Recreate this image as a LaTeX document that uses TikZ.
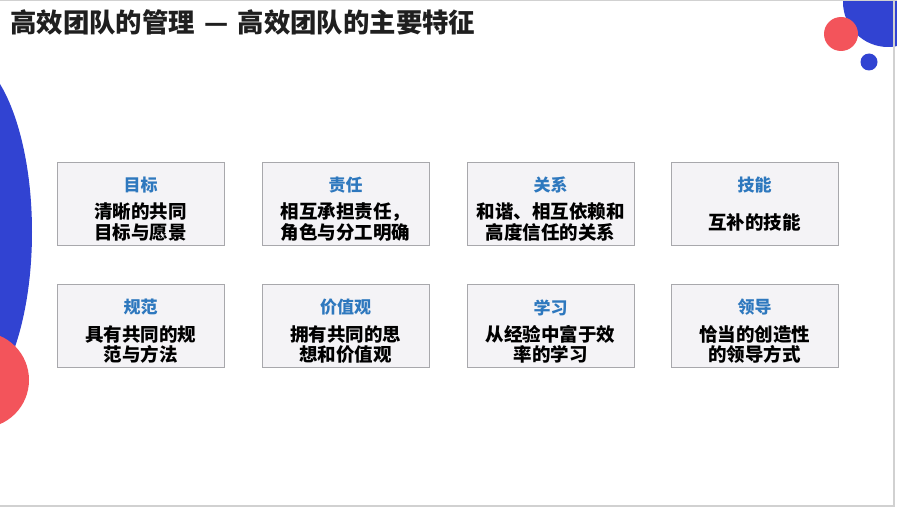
\documentclass[tikz,border=0pt]{standalone}
\usepackage{fontspec}
\setmainfont{Noto Sans CJK SC}
\usepackage{tikz}

\definecolor{deepblue}{HTML}{3143D2}
\definecolor{coral}{HTML}{F3545B}
\definecolor{headblue}{HTML}{2E78BE}
\definecolor{boxfill}{HTML}{F4F3F6}
\definecolor{boxline}{HTML}{A8A8AC}

\tikzset{
    card/.style={draw=boxline, fill=boxfill, line width=0.9pt,
        minimum width=167pt, minimum height=83pt, inner sep=0pt},
    cardhead/.style={text=headblue, font=\fontsize{17}{19}\selectfont\bfseries},
    cardbody/.style={align=center, font=\fontsize{18.5}{20.5}\selectfont\bfseries}
}

\begin{document}
\begin{tikzpicture}[x=1pt, y=-1pt]
    \useasboundingbox (0,0) rectangle (897,508);
    \fill[white] (0,0) rectangle (897,508);

    % decorations
    \fill[deepblue] (-40,232) ellipse (72 and 178);
    \fill[coral] (-19,380) circle (48);
    \fill[deepblue] (888,2) circle (45);
    \fill[coral] (841,34) circle (17);
    \fill[deepblue] (869,62) circle (8.5);

    % frame
    \draw[black!18, line width=1.2pt] (0,0.6) -- (897,0.6);
    \draw[black!18, line width=1.5pt] (894,0) -- (894,506) -- (0,506);

    % title
    \node[anchor=west, inner sep=0pt, text=black!88,
        font=\fontsize{26.4}{28}\selectfont\bfseries] (title) at (10,22)
        {高效团队的管理\hspace{0.35em}—\hspace{0.35em}高效团队的主要特征};

    % eight cards
    \foreach \i/\x/\y/\head/\body in {
        1/140.5/203.5/目标/{清晰的共同\\目标与愿景},
        2/345.5/203.5/责任/{相互承担责任，\\角色与分工明确},
        3/550.5/203.5/关系/{和谐、相互依赖和\\高度信任的关系},
        4/754.5/203.5/技能/{互补的技能},
        5/140.5/326/规范/{具有共同的规\\范与方法},
        6/345.5/326/价值观/{拥有共同的思\\想和价值观},
        7/550.5/326/学习/{从经验中富于效\\率的学习},
        8/754.5/326/领导/{恰当的创造性\\的领导方式}} {
        \node[card] (card\i) at (\x,\y) {};
        \node[cardhead] (head\i) at ([yshift=18.5pt]card\i.center) {\head};
        \node[cardbody] (body\i) at ([yshift=-18.5pt]card\i.center) {\body};
    }
\end{tikzpicture}
\end{document}
